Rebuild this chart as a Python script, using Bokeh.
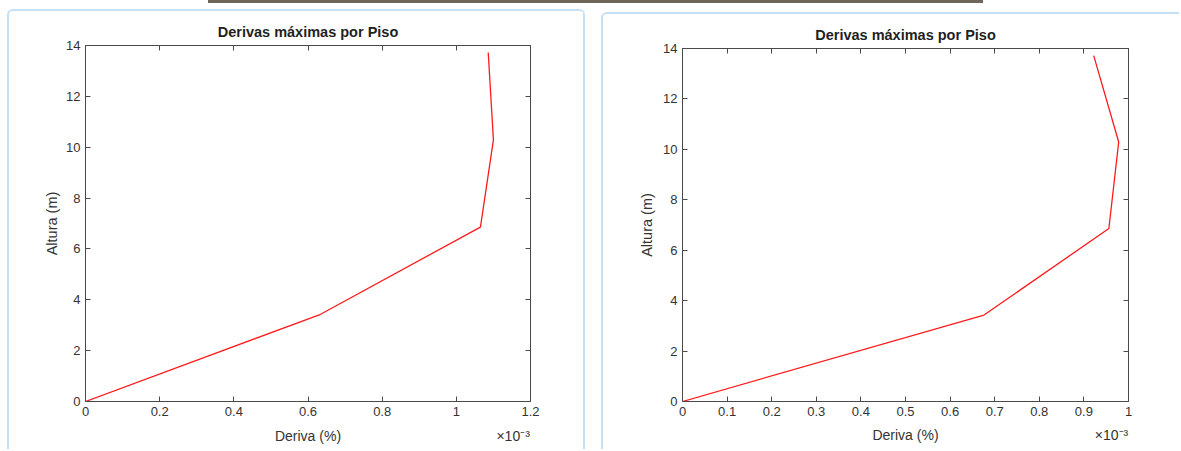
from bokeh.plotting import figure
from bokeh.models import Range1d, FixedTicker, LinearAxis, CustomJSTickFormatter
from bokeh.layouts import row
from bokeh.embed import file_html
from bokeh.resources import INLINE

# ---- data ----
alturas = [0.0, 3.43, 6.86, 10.29, 13.72]
deriva_izq = [0.0, 0.000634, 0.001065, 0.0011, 0.001086]
deriva_der = [0.0, 0.000676, 0.000956, 0.000978, 0.000922]
xticks_izq = [0.0, 0.0002, 0.0004, 0.0006, 0.0008, 0.0010, 0.0012]
xticks_der = [0.0, 0.0001, 0.0002, 0.0003, 0.0004, 0.0005, 0.0006, 0.0007, 0.0008, 0.0009, 0.0010]
yticks = [0, 2, 4, 6, 8, 10, 12, 14]
titulo = "Derivas máximas por Piso"
etiqueta_x = "Deriva (%)"
etiqueta_y = "Altura (m)"
exponente = "×10⁻³"

FONT = "Liberation Sans"
AX = "#4a4a4a"
TXT = "#333333"

fmt = CustomJSTickFormatter(code="return String(parseFloat((tick*1000).toFixed(4)));")
blank = CustomJSTickFormatter(code="return '';")


def panel(xs, xmax, xticks, width, height, mbl, mbr, mbt, mbb, styles,
          ylab_standoff, xlab_standoff, exp_frac):
    p = figure(width=width, height=height, output_backend="svg", toolbar_location=None,
               x_range=Range1d(0, xmax), y_range=Range1d(0, 14),
               min_border_left=mbl, min_border_right=mbr, min_border_top=mbt,
               min_border_bottom=mbb, x_axis_location=None, y_axis_location=None)
    p.styles = styles
    p.grid.visible = False
    p.outline_line_color = None
    p.background_fill_color = "white"
    p.border_fill_color = "white"

    p.line(xs, alturas, line_color="#ff1a1a", line_width=1.3)

    def style(ax, labels, standoff=6):
        ax.axis_line_color = AX
        ax.axis_line_width = 1
        ax.major_tick_line_color = AX
        ax.major_tick_in = 5
        ax.major_tick_out = 0
        ax.minor_tick_line_color = None
        if labels:
            ax.major_label_text_font = FONT
            ax.major_label_text_font_size = "13px"
            ax.major_label_text_color = TXT
            ax.major_label_standoff = 5
            ax.axis_label_text_font = FONT
            ax.axis_label_text_font_size = "14.5px"
            ax.axis_label_text_font_style = "normal"
            ax.axis_label_text_color = TXT
            ax.axis_label_standoff = standoff
        else:
            ax.major_label_text_font_size = "1px"
            ax.major_label_standoff = 0

    xb = LinearAxis(ticker=FixedTicker(ticks=xticks), formatter=fmt)
    yl = LinearAxis(ticker=FixedTicker(ticks=yticks), axis_label=etiqueta_y)
    xt = LinearAxis(ticker=FixedTicker(ticks=xticks), formatter=blank)
    yr = LinearAxis(ticker=FixedTicker(ticks=yticks), formatter=blank)
    style(xb, True)
    style(yl, True, ylab_standoff)
    style(xt, False)
    style(yr, False)
    p.add_layout(xb, "below")
    p.add_layout(yl, "left")
    p.add_layout(xt, "above")
    p.add_layout(yr, "right")

    # second row under the x axis: axis title (centred) and the MATLAB exponent note
    lab_fmt = CustomJSTickFormatter(
        args=dict(etiqueta=etiqueta_x, exponente=exponente),
        code="return index == 0 ? etiqueta : exponente;")
    xl = LinearAxis(ticker=FixedTicker(ticks=[xmax * 0.5, xmax * exp_frac]), formatter=lab_fmt)
    xl.axis_line_color = None
    xl.major_tick_line_color = None
    xl.major_tick_in = 0
    xl.major_tick_out = 0
    xl.minor_tick_line_color = None
    xl.major_label_text_font = FONT
    xl.major_label_text_font_size = "14px"
    xl.major_label_text_color = TXT
    xl.major_label_standoff = xlab_standoff
    p.add_layout(xl, "below")

    p.title.text = titulo
    p.title.align = "center"
    p.title.text_font = FONT
    p.title.text_font_size = "14.5px"
    p.title.text_font_style = "bold"
    p.title.text_color = "#1f1f1f"
    p.title.standoff = 11
    return p


BORDER = "2px solid #c3e0f7"
p1 = panel(deriva_izq, 0.0012, xticks_izq, 578, 440, 76, 57, 33, 50,
           {"border-top": BORDER, "border-left": BORDER, "border-right": BORDER,
            "border-radius": "6px 6px 0 0", "margin-top": "9px", "margin-left": "7px"},
           3, 9, 0.961)
p2 = panel(deriva_der, 0.0010, xticks_der, 578, 437, 79, 53, 34, 46,
           {"border-top": BORDER, "border-left": BORDER,
            "border-radius": "6px 0 0 0", "margin-top": "12px", "margin-left": "16px"},
           5, 8, 0.962)

layout = row(p1, p2)
layout.styles = {"background-image": "linear-gradient(#6f665a, #6f665a)",
                 "background-repeat": "no-repeat",
                 "background-position": "208px 0px",
                 "background-size": "775px 3px"}
open("out.html", "w").write(file_html(layout, INLINE))
